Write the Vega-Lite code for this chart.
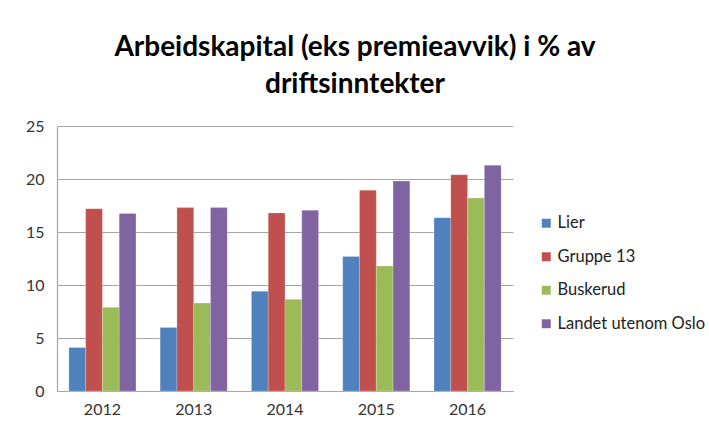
{
  "$schema": "https://vega.github.io/schema/vega-lite/v6.json",
  "autosize": "none",
  "width": 456,
  "height": 265,
  "padding": {"left": 57, "top": 126, "right": 196, "bottom": 36},
  "background": "white",
  "title": {
    "text": ["Arbeidskapital (eks premieavvik) i % av", "driftsinntekter"],
    "font": "Lato",
    "fontWeight": "bold",
    "fontSize": 28,
    "color": "#000000",
    "lineHeight": 37,
    "anchor": "middle",
    "dx": 70,
    "offset": 19
  },
  "data": {
    "values": [
      {"year": "2012", "series": "Lier", "value": 4.1},
      {"year": "2012", "series": "Gruppe 13", "value": 17.2},
      {"year": "2012", "series": "Buskerud", "value": 7.9},
      {"year": "2012", "series": "Landet utenom Oslo", "value": 16.75},
      {"year": "2013", "series": "Lier", "value": 6.0},
      {"year": "2013", "series": "Gruppe 13", "value": 17.3},
      {"year": "2013", "series": "Buskerud", "value": 8.3},
      {"year": "2013", "series": "Landet utenom Oslo", "value": 17.3},
      {"year": "2014", "series": "Lier", "value": 9.4},
      {"year": "2014", "series": "Gruppe 13", "value": 16.8},
      {"year": "2014", "series": "Buskerud", "value": 8.65},
      {"year": "2014", "series": "Landet utenom Oslo", "value": 17.05},
      {"year": "2015", "series": "Lier", "value": 12.7},
      {"year": "2015", "series": "Gruppe 13", "value": 18.95},
      {"year": "2015", "series": "Buskerud", "value": 11.8},
      {"year": "2015", "series": "Landet utenom Oslo", "value": 19.8},
      {"year": "2016", "series": "Lier", "value": 16.35},
      {"year": "2016", "series": "Gruppe 13", "value": 20.4},
      {"year": "2016", "series": "Buskerud", "value": 18.2},
      {"year": "2016", "series": "Landet utenom Oslo", "value": 21.3}
    ]
  },
  "mark": {"type": "bar", "stroke": "white", "strokeOpacity": 0.35, "strokeWidth": 0.6},
  "encoding": {
    "x": {
      "field": "year",
      "type": "nominal",
      "title": null,
      "scale": {"paddingInner": 0.265, "paddingOuter": 0.13},
      "axis": {
        "labelAngle": 0,
        "labelFont": "Lato",
        "labelFontSize": 16,
        "labelColor": "#333333",
        "labelPadding": 10,
        "ticks": false,
        "domainColor": "#a6a6a6",
        "domainWidth": 1.2
      }
    },
    "xOffset": {
      "field": "series",
      "type": "nominal",
      "sort": ["Lier", "Gruppe 13", "Buskerud", "Landet utenom Oslo"],
      "scale": {"paddingInner": 0, "paddingOuter": 0}
    },
    "y": {
      "field": "value",
      "type": "quantitative",
      "title": null,
      "scale": {"domain": [0, 25], "nice": false},
      "axis": {
        "values": [0, 5, 10, 15, 20, 25],
        "labelFont": "Lato",
        "labelFontSize": 16,
        "labelColor": "#333333",
        "labelPadding": 13,
        "ticks": false,
        "domain": true,
        "domainColor": "#a6a6a6",
        "domainWidth": 1.2,
        "gridColor": "#a6a6a6",
        "gridWidth": 1.2
      }
    },
    "color": {
      "field": "series",
      "type": "nominal",
      "sort": ["Lier", "Gruppe 13", "Buskerud", "Landet utenom Oslo"],
      "scale": {
        "domain": ["Lier", "Gruppe 13", "Buskerud", "Landet utenom Oslo"],
        "range": ["#4F81BD", "#C0504D", "#9BBB59", "#8064A2"]
      },
      "legend": {
        "title": null,
        "orient": "none",
        "legendX": 481,
        "legendY": 89,
        "symbolType": "square",
        "symbolSize": 80,
        "symbolStrokeWidth": 0,
        "labelFont": "Lato",
        "labelFontSize": 16.5,
        "labelColor": "#222222",
        "rowPadding": 16.5,
        "labelOffset": 3
      }
    }
  },
  "config": {"view": {"stroke": null}}
}
